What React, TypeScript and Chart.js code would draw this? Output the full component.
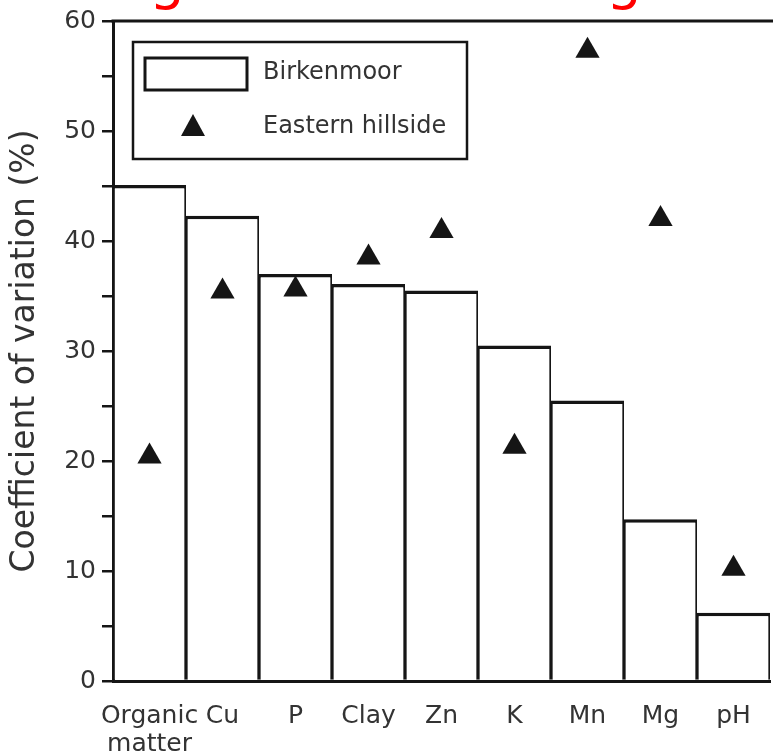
import React, { useEffect, useRef } from "react";
import { Chart, registerables } from "chart.js";

Chart.register(...registerables);

// ---- data ----
const categories: (string | string[])[] = [["Organic", "matter"], "Cu", "P", "Clay", "Zn", "K", "Mn", "Mg", "pH"];
const birkenmoor = [45.1, 42.3, 37.0, 36.1, 35.5, 30.5, 25.5, 14.7, 6.2];
const easternHillside = [20.4, 35.4, 35.6, 38.5, 40.9, 21.3, 57.3, 42.0, 10.2];
const seriesNames = ["Birkenmoor", "Eastern hillside"];
const yTitle = "Coefficient of variation (%)";
const yMin = 0;
const yMax = 60;
const yStep = 5;
const yLabelEvery = 10;
const topCutText = ["g", "g"];

const FONT = '"DejaVu Sans", Verdana, sans-serif';
const TEXT = "#333333";
const INK = "#151515";

const framePlugin = {
  id: "frameAndLegend",
  beforeDraw(chart: any) {
    const ctx = chart.ctx;
    ctx.save();
    ctx.fillStyle = "#ffffff";
    ctx.fillRect(0, 0, chart.width, chart.height);
    // cut-off red heading fragments at the very top
    ctx.fillStyle = "#ff0000";
    ctx.font = `56px ${FONT}`;
    ctx.textAlign = "center";
    ctx.textBaseline = "alphabetic";
    ctx.fillText(topCutText[0], 167, -2);
    ctx.fillText(topCutText[1], 624, -2);
    ctx.restore();
  },
  afterDraw(chart: any) {
    const ctx = chart.ctx;
    const a = chart.chartArea;
    ctx.save();
    // top frame line
    ctx.strokeStyle = INK;
    ctx.lineWidth = 3;
    ctx.beginPath();
    ctx.moveTo(a.left - 1.5, a.top);
    ctx.lineTo(chart.width, a.top);
    ctx.stroke();

    // legend box
    const x = a.left + 20;
    const y = a.top + 21;
    const w = 334;
    const h = 117;
    ctx.fillStyle = "#ffffff";
    ctx.fillRect(x, y, w, h);
    ctx.lineWidth = 2.5;
    ctx.strokeStyle = INK;
    ctx.strokeRect(x, y, w, h);
    // bar swatch
    ctx.lineWidth = 3;
    ctx.strokeRect(x + 12, y + 16, 102, 32);
    // triangle swatch
    const tx = x + 60;
    const ty = y + 85;
    ctx.fillStyle = INK;
    ctx.beginPath();
    ctx.moveTo(tx, ty - 13);
    ctx.lineTo(tx + 12, ty + 9);
    ctx.lineTo(tx - 12, ty + 9);
    ctx.closePath();
    ctx.fill();
    // labels
    ctx.fillStyle = TEXT;
    ctx.font = `24px ${FONT}`;
    ctx.textAlign = "left";
    ctx.textBaseline = "middle";
    ctx.fillText(chart.data.datasets[0].label, x + 130, y + 31);
    ctx.fillText(chart.data.datasets[1].label, x + 130, y + 85);
    ctx.restore();
  },
};

export default function App() {
  const ref = useRef<HTMLCanvasElement | null>(null);

  useEffect(() => {
    if (!ref.current) return;
    const chart = new Chart(ref.current, {
      type: "bar",
      data: {
        labels: categories as any,
        datasets: [
          {
            type: "bar",
            label: seriesNames[0],
            data: birkenmoor,
            backgroundColor: "#ffffff",
            borderColor: INK,
            borderWidth: { top: 3.5, left: 1.8, right: 1.8, bottom: 0 } as any,
            borderSkipped: false,
            inflateAmount: 0,
            barPercentage: 1,
            categoryPercentage: 1,
            order: 2,
          } as any,
          {
            type: "line",
            label: seriesNames[1],
            data: easternHillside,
            showLine: false,
            pointStyle: "triangle",
            pointRadius: 14,
            pointHoverRadius: 14,
            pointBackgroundColor: INK,
            pointBorderColor: INK,
            pointBorderWidth: 0,
            order: 1,
          } as any,
        ],
      },
      options: {
        responsive: false,
        animation: false,
        devicePixelRatio: 1,
        layout: { padding: { top: 17, right: 0, bottom: 0, left: 0 } },
        plugins: {
          legend: { display: false },
          tooltip: { enabled: false },
          title: { display: false },
        },
        scales: {
          x: {
            type: "category",
            offset: true,
            grid: { display: false, drawTicks: false },
            border: { display: true, color: INK, width: 3 },
            ticks: {
              color: TEXT,
              font: { family: FONT, size: 25, lineHeight: 1.1 },
              padding: 22,
              maxRotation: 0,
              autoSkip: false,
            },
            afterFit: (s: any) => {
              s.height = 74;
            },
          },
          y: {
            min: yMin,
            max: yMax,
            grid: {
              drawOnChartArea: false,
              drawTicks: true,
              tickLength: 11,
              color: INK,
              lineWidth: 2.5,
            },
            border: { display: true, color: INK, width: 3 },
            ticks: {
              stepSize: yStep,
              color: TEXT,
              padding: 6,
              font: { family: FONT, size: 25 },
              callback: (v: any) => (Number(v) % yLabelEvery === 0 ? String(v) : ""),
            },
            title: {
              display: true,
              text: yTitle,
              color: TEXT,
              font: { family: FONT, size: 33, lineHeight: 1.1 },
              padding: { top: 7, bottom: 0 },
            },
            afterFit: (s: any) => {
              s.width = 113;
            },
          },
        },
      },
      plugins: [framePlugin],
    });
    return () => chart.destroy();
  }, []);

  return (
    <div
      style={{
        position: "absolute",
        left: 0,
        top: 0,
        width: 773,
        height: 755,
        overflow: "hidden",
        background: "#ffffff",
      }}
    >
      <canvas ref={ref} width={784} height={755} style={{ display: "block" }} />
    </div>
  );
}
